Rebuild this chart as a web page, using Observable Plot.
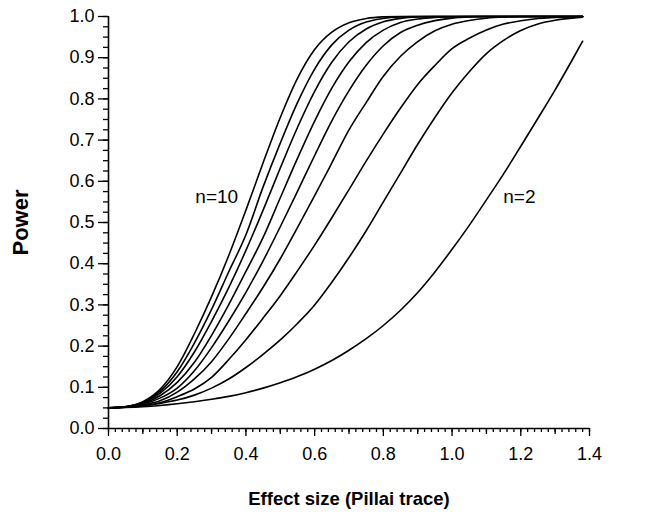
<!DOCTYPE html>
<html><head><meta charset="utf-8">
<script src="https://cdn.jsdelivr.net/npm/d3@7"></script>
<script src="https://cdn.jsdelivr.net/npm/@observablehq/plot@0.6"></script>
<style>
body{margin:0;background:#fff}
g[aria-label="curve-labels"] text{letter-spacing:1.5px}
g[aria-label="y-title"] text{letter-spacing:0.5px}
g[aria-label="x-title"] text{letter-spacing:0.5px}
</style>
</head><body><div id="chart"></div>
<script>
// Effect size grid (Pillai trace)
const effectSize = [0,0.05,0.1,0.15,0.2,0.25,0.3,0.35,0.4,0.45,0.5,0.55,0.6,0.65,0.7,0.75,0.8,0.85,0.9,0.95,1.0,1.05,1.1,1.15,1.2,1.25,1.3,1.35,1.38];

// Power, one array per sample size n
const power_n2  = [0.05,0.051,0.053,0.056,0.06,0.065,0.071,0.078,0.087,0.098,0.111,0.126,0.144,0.165,0.19,0.218,0.25,0.287,0.33,0.38,0.435,0.493,0.555,0.618,0.685,0.753,0.822,0.895,0.94];
const power_n3  = [0.05,0.052,0.0545,0.061,0.069,0.081,0.098,0.12,0.148,0.18,0.215,0.255,0.30,0.355,0.415,0.48,0.55,0.62,0.69,0.755,0.815,0.866,0.91,0.942,0.966,0.982,0.991,0.996,0.998];
const power_n4  = [0.05,0.0518,0.0554,0.0627,0.0773,0.0957,0.1239,0.1673,0.2156,0.268,0.3224,0.3826,0.4451,0.5115,0.5799,0.6491,0.7152,0.7778,0.8352,0.8812,0.922,0.9473,0.9673,0.9817,0.9896,0.9952,0.9977,0.9995,1.0];
const power_n5  = [0.05,0.0521,0.0576,0.0672,0.0882,0.1204,0.1622,0.2175,0.2791,0.3428,0.412,0.4873,0.565,0.6445,0.7247,0.7911,0.855,0.9035,0.9391,0.9654,0.9813,0.9903,0.9959,0.9987,1,1,1,1,1];
const power_n6  = [0.05,0.0523,0.0594,0.0737,0.098,0.1401,0.1964,0.2609,0.3306,0.407,0.4897,0.5756,0.6626,0.7466,0.82,0.8815,0.929,0.9611,0.979,0.99,0.9961,0.999,1,1,1,1,1,1,1];
const power_n7  = [0.05,0.0525,0.0608,0.0794,0.1118,0.1606,0.2262,0.3007,0.3812,0.4638,0.56,0.6555,0.746,0.826,0.89,0.9367,0.967,0.9855,0.9938,0.9978,0.9995,1,1,1,1,1,1,1,1];
const power_n8  = [0.05,0.0527,0.0623,0.085,0.1256,0.1856,0.26,0.342,0.4322,0.53,0.6322,0.7306,0.8183,0.8889,0.9386,0.9697,0.9872,0.9955,0.999,1,1,1,1,1,1,1,1,1,1];
const power_n9  = [0.05,0.0528,0.0636,0.0899,0.1376,0.2073,0.289,0.3804,0.4703,0.5864,0.6927,0.791,0.8724,0.9311,0.9668,0.9865,0.9954,0.999,1,1,1,1,1,1,1,1,1,1,1];
const power_n10 = [0.05,0.053,0.065,0.095,0.15,0.23,0.32,0.42,0.53,0.645,0.755,0.85,0.92,0.962,0.985,0.995,0.999,1,1,1,1,1,1,1,1,1,1,1,1];

const seriesNames = ["n=2","n=3","n=4","n=5","n=6","n=7","n=8","n=9","n=10"];
const seriesValues = [power_n2,power_n3,power_n4,power_n5,power_n6,power_n7,power_n8,power_n9,power_n10];

const xTickLabels = [0,0.2,0.4,0.6,0.8,1.0,1.2,1.4];
const yTickLabels = [0,0.1,0.2,0.3,0.4,0.5,0.6,0.7,0.8,0.9,1.0];
const xMidTicks = [0.1,0.3,0.5,0.7,0.9,1.1,1.3];
const xMinorTicks = d3.range(0,71).map(i => i*0.02);
const yMinorTicks = d3.range(0,41).map(i => i*0.025);

const curveLabels = [
  {text:"n=10", x:0.315, y:0.563},
  {text:"n=2",  x:1.196, y:0.563}
];

const rows = seriesNames.flatMap((name, k) =>
  effectSize.map((e, i) => ({series: name, x: e, y: seriesValues[k][i]})));

const font = "'Liberation Sans', Arial, Helvetica, sans-serif";

const chart = Plot.plot({
  width: 666,
  height: 514,
  marginLeft: 108,
  marginRight: 77,
  marginTop: 16,
  marginBottom: 86,
  style: {fontFamily: font, fontSize: "18px", color: "#000", background: "#fff"},
  x: {domain: [0, 1.4]},
  y: {domain: [0, 1]},
  marks: [
    Plot.axisX(xMinorTicks, {tickSize: 4, tickFormat: () => "", label: null, strokeWidth: 1.3}),
    Plot.axisX(xMidTicks, {tickSize: 6, tickFormat: () => "", label: null, strokeWidth: 1.3}),
    Plot.axisX(xTickLabels, {tickSize: 8, tickPadding: 11, tickFormat: d3.format(".1f"), label: null, fontSize: 18, strokeWidth: 1.3}),
    Plot.axisY(yMinorTicks, {tickSize: 5, tickFormat: () => "", label: null, strokeWidth: 1.3}),
    Plot.axisY(yTickLabels, {tickSize: 10, tickPadding: 4, tickFormat: d3.format(".1f"), label: null, fontSize: 18, strokeWidth: 1.3}),
    Plot.ruleX([0], {stroke: "#000", strokeWidth: 1.6}),
    Plot.ruleY([0], {stroke: "#000", strokeWidth: 1.6}),
    Plot.line(rows, {x: "x", y: "y", z: "series", stroke: "#000", strokeWidth: 1.6, curve: "monotone-x"}),
    Plot.text(curveLabels, {x: "x", y: "y", text: "text", fontSize: 19, fill: "#000", ariaLabel: "curve-labels"}),
    Plot.text(["Power"], {frameAnchor: "left", textAnchor: "middle", dx: -88, rotate: -90, fontSize: 22, fontWeight: "bold", fill: "#000", ariaLabel: "y-title"}),
    Plot.text(["Effect size (Pillai trace)"], {frameAnchor: "bottom", textAnchor: "middle", lineAnchor: "middle", dy: 71, fontSize: 18.5, fontWeight: "bold", fill: "#000", ariaLabel: "x-title"})
  ]
});
document.getElementById("chart").append(chart);
</script>
</body></html>
